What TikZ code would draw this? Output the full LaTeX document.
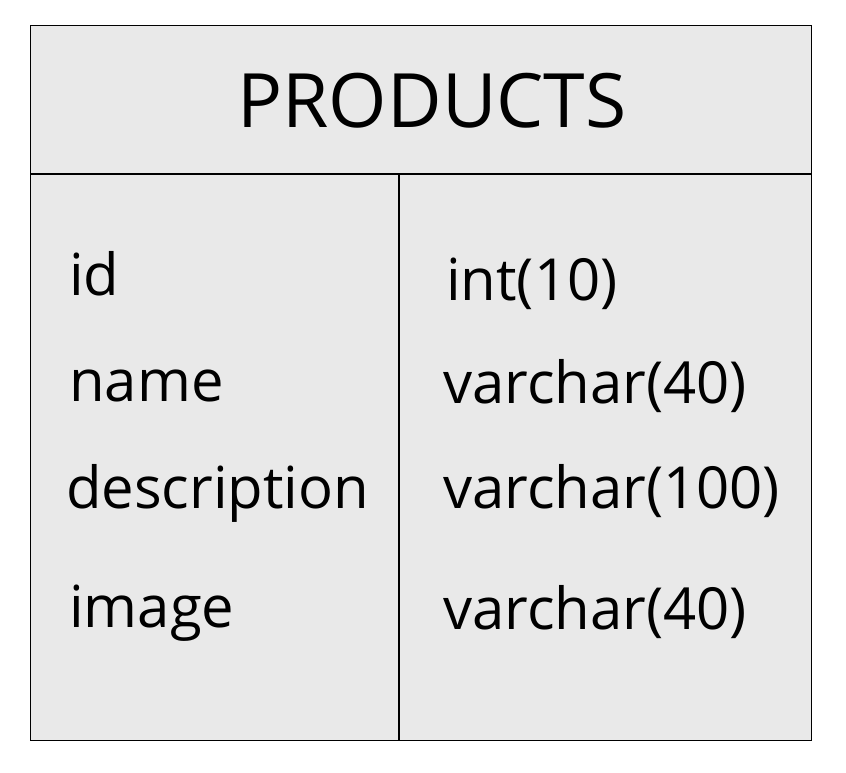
\documentclass[tikz,border=0pt]{standalone}
\usepackage{fontspec}
\setmainfont{Open Sans}
\begin{document}
\begin{tikzpicture}[x=1pt,y=-1pt,
  tablebox/.style={draw=black,fill=tablegray,line width=1.2pt},
  rule/.style={draw=black,line width=1.2pt},
  title/.style={anchor=base,inner sep=0pt,font=\fontsize{75}{78}\selectfont},
  cell/.style={anchor=base west,inner sep=0pt,font=\fontsize{58}{62}\selectfont}]
\definecolor{tablegray}{HTML}{E9E9E9}
\useasboundingbox (0,0) rectangle (846,772);
% table frame, header rule and column divider
\node[tablebox,minimum width=781pt,minimum height=715pt,anchor=north west,inner sep=0pt] (frame) at (30,25) {};
\coordinate (hl) at (30,174);
\coordinate (hr) at (811,174);
\coordinate (vt) at (399,174);
\coordinate (vb) at (399,740);
\draw[rule] (hl) -- (hr);
\draw[rule] (vt) -- (vb);
% header
\node[title] (head) at (432,127) {PRODUCTS};
% field names
\node[cell] (f1) at (69,295) {id};
\node[cell] (f2) at (69,401) {name};
\node[cell] (f3) at (66,508) {description};
\node[cell] (f4) at (69,627) {image};
% field types
\node[cell] (t1) at (446,300) {int(10)};
\node[cell] (t2) at (443,403) {varchar(40)};
\node[cell] (t3) at (443,508) {varchar(100)};
\node[cell] (t4) at (443,629) {varchar(40)};
\end{tikzpicture}
\end{document}
